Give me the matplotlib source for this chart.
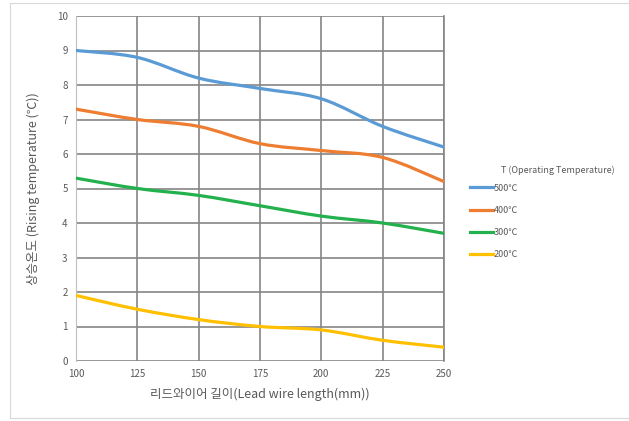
import numpy as np
import matplotlib; matplotlib.use("Agg")
import matplotlib.pyplot as plt
from matplotlib.path import Path
from matplotlib.patches import PathPatch, Rectangle
from matplotlib.lines import Line2D

plt.rcParams['font.family'] = ['Noto Sans CJK KR', 'DejaVu Sans']

# data
lengths = [100, 125, 150, 175, 200, 225, 250]
t500 = [9.0, 8.8, 8.2, 7.9, 7.6, 6.8, 6.2]
t400 = [7.3, 7.0, 6.8, 6.3, 6.1, 5.9, 5.2]
t300 = [5.3, 5.0, 4.8, 4.5, 4.2, 4.0, 3.7]
t200 = [1.9, 1.5, 1.2, 1.0, 0.9, 0.6, 0.4]
labels = ["500℃", "400℃", "300℃", "200℃"]
colors = ["#5B9BD5", "#ED7D31", "#22B14C", "#FFC000"]
GRAY = "#595959"


def smooth_path(xs, ys):
    # Excel-style smoothed line: Catmull-Rom segments as cubic Beziers
    p = np.column_stack([xs, ys]).astype(float)
    ext = np.vstack([p[0], p, p[-1]])
    verts = [p[0]]; codes = [Path.MOVETO]
    for i in range(1, len(ext) - 2):
        c1 = ext[i] + (ext[i + 1] - ext[i - 1]) / 6
        c2 = ext[i + 1] - (ext[i + 2] - ext[i]) / 6
        verts += [c1, c2, ext[i + 1]]; codes += [Path.CURVE4] * 3
    return Path(verts, codes)


fig = plt.figure(figsize=(6.29, 4.21), dpi=100)
fig.patches.append(Rectangle((10 / 629, 3 / 421), 1, 415 / 421, transform=fig.transFigure,
                             fill=False, ec="#d9d9d9", lw=0.8))
ax = fig.add_axes([76 / 629, 1 - 361 / 421, 368 / 629, 345 / 421])

for ys, c in zip([t500, t400, t300, t200], colors):
    ax.add_patch(PathPatch(smooth_path(lengths, ys), fill=False, ec=c, lw=2.3,
                           capstyle="round", zorder=3))

ax.set_xlim(100, 250); ax.set_ylim(0, 10)
ax.set_xticks(lengths); ax.set_yticks(range(0, 11))
ax.grid(True, color="#858585", lw=1.2)
ax.set_axisbelow(True)
for s in ["top", "bottom"]:
    ax.spines[s].set_visible(False)
ax.spines["right"].set_color("#858585"); ax.spines["right"].set_linewidth(1.2)
ax.spines["left"].set_color("#bfbfbf")
ax.tick_params(length=0, labelsize=7, colors=GRAY, pad=6)
ax.set_xlabel("리드와이어 길이(Lead wire length(mm))", fontsize=9, color=GRAY, labelpad=6)
ax.set_ylabel("상승온도 (Rising temperature (℃))", fontsize=9, color=GRAY, labelpad=12)

handles = [Line2D([], [], color=c, lw=2.3) for c in colors]
fig.text(501 / 629, 1 - 170 / 421, "T (Operating Temperature)", fontsize=6.5, color=GRAY,
         va="center", ha="left")
fig.legend(handles, labels, loc="upper left", bbox_to_anchor=(466 / 629, 1 - 180 / 421),
           frameon=False, fontsize=6.5, labelcolor=GRAY, handlelength=2.6,
           handletextpad=0.1, labelspacing=1.45, borderaxespad=0)

fig.savefig("out.png", dpi=100)
